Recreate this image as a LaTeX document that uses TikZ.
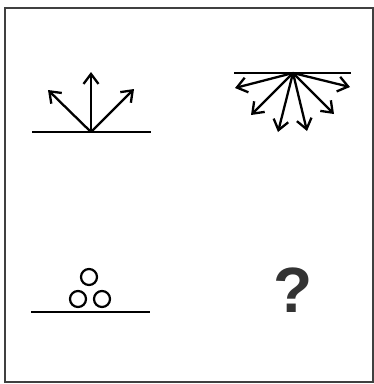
\documentclass[tikz,border=0pt]{standalone}
\usepackage{fontspec}
\setmainfont{Liberation Sans}
\usetikzlibrary{arrows.meta}

\begin{document}
\begin{tikzpicture}[
      x=1pt, y=-1pt,
      surf/.style={line width=2.6pt},
      ray/.style={line width=2.3pt, -{Straight Barb[length=10pt, width=15pt, line width=2.3pt]}},
      ball/.style={draw, circle, line width=2.2pt, minimum size=16pt, inner sep=0pt},
    ]
    \useasboundingbox (0,0) rectangle (374,384);
    \draw[line width=1.6pt, black!75] (5,8) rectangle (373,382);

    % reflecting surface, rays going up
    \coordinate (srcA) at (91,132);
    \coordinate (surfAl) at (32,132);
    \coordinate (surfAr) at (151,132);
    \draw[surf] (surfAl) -- (surfAr);
    \coordinate (upL) at (48,90);
    \coordinate (upM) at (91,72);
    \coordinate (upR) at (134,89);
    \foreach \t in {upL, upM, upR}
      \draw[ray] (srcA) -- (\t);

    % surface above, rays going down
    \coordinate (srcB) at (293,73);
    \coordinate (surfBl) at (234,73);
    \coordinate (surfBr) at (351,73);
    \draw[surf] (surfBl) -- (surfBr);
    \coordinate (dn1) at (235,88);
    \coordinate (dn2) at (251,115);
    \coordinate (dn3) at (278,132);
    \coordinate (dn4) at (307,131);
    \coordinate (dn5) at (334,114);
    \coordinate (dn6) at (350,87);
    \foreach \t in {dn1, dn2, dn3, dn4, dn5, dn6}
      \draw[ray] (srcB) -- (\t);

    % stacked balls
    \coordinate (surfCl) at (31,312);
    \coordinate (surfCr) at (150,312);
    \draw[surf] (surfCl) -- (surfCr);
    \node[ball] (top) at (89,277) {};
    \node[ball] (left) at (78,299) {};
    \node[ball] (right) at (102,299) {};

    \node[text=black!80, font=\bfseries\fontsize{64}{64}\selectfont] (ask) at (293,290) {?};
  \end{tikzpicture}
\end{document}
